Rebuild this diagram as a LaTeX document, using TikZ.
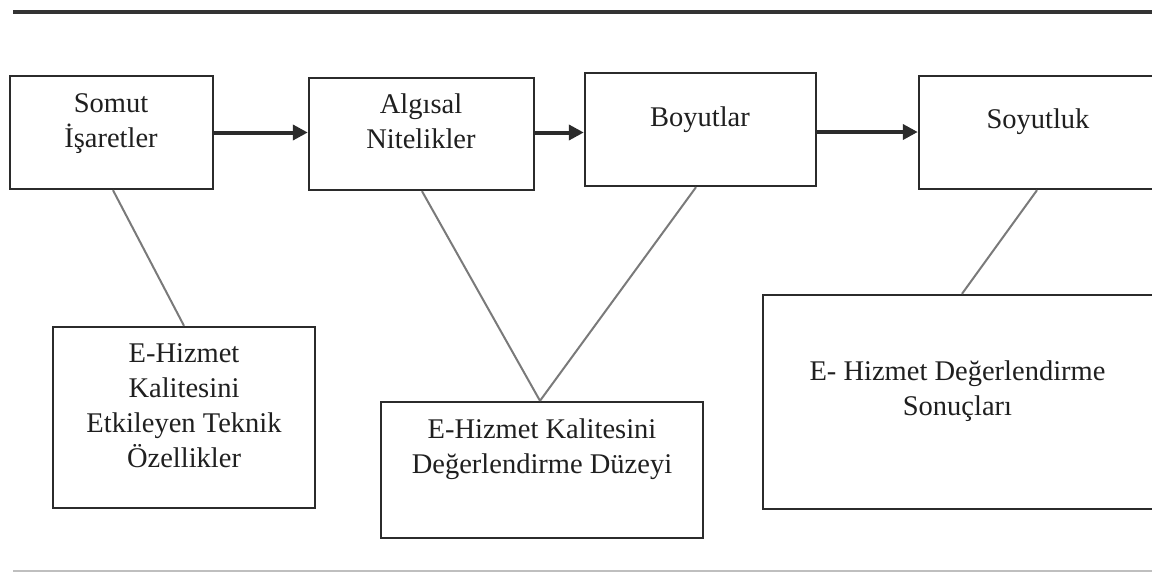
\documentclass[tikz,border=0pt]{standalone}
\usepackage{fontspec}
\setmainfont{Liberation Serif}
\usetikzlibrary{arrows.meta}
\definecolor{boxline}{HTML}{2B2B2B}
\definecolor{conn}{HTML}{7A7A7A}
\begin{document}
\begin{tikzpicture}[x=1pt,y=-1pt,
  box/.style={draw=boxline,line width=2.4pt,rectangle,inner sep=0pt},
  txt/.style={anchor=north,inner sep=0pt,align=center,font=\fontsize{28.5}{35}\selectfont,text=black!88},
  flow/.style={draw=boxline,line width=4pt,-{Triangle[length=15pt,width=15pt]}},
  link/.style={draw=conn,line width=2pt}]
\useasboundingbox (0,0) rectangle (1152,573);
\clip (0,0) rectangle (1152,573);
% rules
\draw[line width=3.5pt,draw=black!80] (13,12) -- (1152,12);
\draw[line width=1.5pt,draw=black!25] (13,571) -- (1152,571);
% boxes
\node[box,minimum width=203pt,minimum height=113pt] (b1) at (111.5,132.5) {};
\node[box,minimum width=225pt,minimum height=112pt] (b2) at (421.5,134) {};
\node[box,minimum width=231pt,minimum height=113pt] (b3) at (700.5,129.5) {};
\node[box,minimum width=240pt,minimum height=113pt] (b4) at (1039,132.5) {};
\node[box,minimum width=262pt,minimum height=181pt] (b5) at (184,417.5) {};
\node[box,minimum width=322pt,minimum height=136pt] (b6) at (542,470) {};
\node[box,minimum width=397pt,minimum height=214pt] (b7) at (961.5,402) {};
% texts
\node[txt] (t1) at (111,87.5) {\strut Somut\\İşaretler};
\node[txt] (t2) at (421,88.5) {\strut Algısal\\Nitelikler};
\node[txt] (t3) at (700,101.5) {\strut Boyutlar};
\node[txt] (t4) at (1038,103.5) {\strut Soyutluk};
\node[txt] (t5) at (184,337.5) {\strut E-Hizmet\\Kalitesini\\Etkileyen Teknik\\Özellikler};
\node[txt] (t6) at (542,413.5) {\strut E-Hizmet Kalitesini\\Değerlendirme Düzeyi};
\node[txt] (t7) at (957.5,355.5) {\strut E- Hizmet Değerlendirme\\Sonuçları};
% arrows
\draw[flow] (b1.east) -- (b1.east -| b2.west);
\draw[flow] ([yshift=1.5pt]b2.east) -- ([yshift=1.5pt]b2.east -| b3.west);
\draw[flow] ([yshift=-2.5pt]b3.east) -- ([yshift=-2.5pt]b3.east -| b4.west);
% connectors
\draw[link] ([xshift=1.5pt]b1.south) -- (b5.north);
\draw[link] ([xshift=0.5pt]b2.south) -- ([xshift=-2pt]b6.north);
\draw[link] ([xshift=-4.5pt]b3.south) -- ([xshift=-2pt]b6.north);
\draw[link] ([xshift=-2pt]b4.south) -- ([xshift=0.5pt]b7.north);
\end{tikzpicture}
\end{document}
